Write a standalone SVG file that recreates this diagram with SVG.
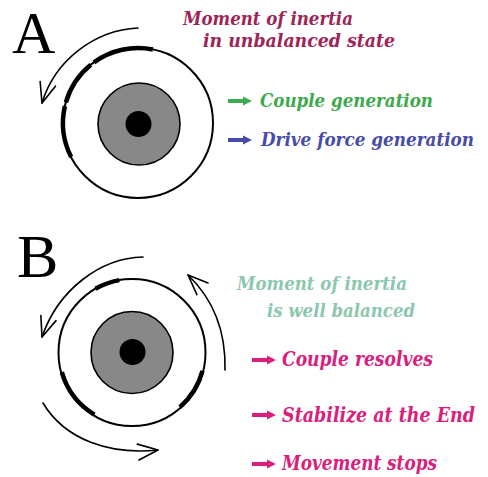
<svg xmlns="http://www.w3.org/2000/svg" width="488" height="477" viewBox="0 0 488 477">
<defs>
<style>
.bg{fill:#ffffff}
.letter{font-family:"Liberation Serif","Times New Roman",serif;fill:#000}
.lbl{font-family:"DejaVu Serif Condensed","DejaVu Serif",serif;font-weight:bold;font-style:italic;font-size:19px}
.big{font-size:20px}
.outer{fill:none;stroke:#000;stroke-width:2}
.core{fill:#888888;stroke:#000;stroke-width:1.6}
.dot{fill:#000}
.thick{fill:none;stroke:#000;stroke-width:4.5;stroke-linecap:butt}
.rot{fill:none;stroke:#000;stroke-width:1.6;stroke-linecap:round}
.crim{fill:#9e2657}
.green{fill:#3ea94e}
.blue{fill:#474ca8}
.teal{fill:#8cc7ae}
.pink{fill:#d8217c}
</style>
<marker id="vhead" markerUnits="userSpaceOnUse" markerWidth="24" markerHeight="20" refX="20" refY="8" orient="auto" overflow="visible">
<path d="M0,0 L20,8 L0,16" fill="none" stroke="#000" stroke-width="1.6" stroke-linecap="round" stroke-linejoin="round"/>
</marker>
<path id="bigArrow" d="M0,-2 L15,-2 L15,-4.5 L24,0 L15,4.5 L15,2 L0,2 Z"/>
</defs>
<rect class="bg" x="0" y="0" width="488" height="477"/>

<g id="panelA">
<text class="letter" x="12" y="53" font-size="60">A</text>
<g id="wheelA">
<circle class="outer" cx="138" cy="123" r="75"/>
<circle class="core" cx="139" cy="124" r="41"/>
<circle class="dot" cx="138.5" cy="124" r="13"/>
<path class="thick" d="M152.96,49.51 A75,75 0 0 0 93.92,62.32"/>
<path class="thick" d="M90.80,64.72 A75,75 0 0 0 65.90,102.33"/>
<path class="thick" d="M64.92,106.13 A75,75 0 0 0 71.17,157.05"/>
</g>
<g id="textA">
<text class="lbl crim" x="183" y="25" textLength="170" lengthAdjust="spacingAndGlyphs">Moment of inertia</text>
<text class="lbl crim" x="203" y="47" textLength="192" lengthAdjust="spacingAndGlyphs">in unbalanced state</text>
</g>
<g id="itemA1">
<use href="#bigArrow" x="228" y="101" class="green"/>
<text class="lbl green" x="260" y="107" textLength="173" lengthAdjust="spacingAndGlyphs">Couple generation</text>
</g>
<g id="itemA2">
<use href="#bigArrow" x="228" y="140" class="blue"/>
<text class="lbl blue" x="261" y="146" textLength="213" lengthAdjust="spacingAndGlyphs">Drive force generation</text>
</g>
</g>

<g id="panelB">
<text class="letter" x="17" y="277" font-size="62">B</text>
<g id="wheelB">
<circle class="outer" cx="132" cy="352.5" r="73.5"/>
<circle class="core" cx="132" cy="352.5" r="41"/>
<circle class="dot" cx="132.5" cy="352" r="13"/>
<path class="thick" d="M95.5,288.8 A73,73 0 0 1 119.33,280.11"/>
<path class="thick" d="M94.4,414.58 A73,73 0 0 1 61.83,372.12"/>
<path class="thick" d="M202.51,370.89 A73,73 0 0 1 179.9,407.09"/>
</g>
<g id="textB">
<text class="lbl teal" x="237" y="290" textLength="170" lengthAdjust="spacingAndGlyphs">Moment of inertia</text>
<text class="lbl teal" x="267" y="317" textLength="148" lengthAdjust="spacingAndGlyphs">is well balanced</text>
</g>
<g id="itemB1">
<use href="#bigArrow" x="252" y="360" class="pink"/>
<text class="lbl big pink" x="282" y="366" textLength="151" lengthAdjust="spacingAndGlyphs">Couple resolves</text>
</g>
<g id="itemB2">
<use href="#bigArrow" x="252" y="415" class="pink"/>
<text class="lbl big pink" x="282" y="422" textLength="193" lengthAdjust="spacingAndGlyphs">Stabilize at the End</text>
</g>
<g id="itemB3">
<use href="#bigArrow" x="252" y="464" class="pink"/>
<text class="lbl big pink" x="282" y="470" textLength="155" lengthAdjust="spacingAndGlyphs">Movement stops</text>
</g>
</g>

<g id="connectors">
<path class="rot" marker-end="url(#vhead)" d="M138,28 C95,30 55,60 42,103"/>
<path class="rot" marker-end="url(#vhead)" d="M143,257 C100,258 58,290 42,337"/>
<path class="rot" marker-end="url(#vhead)" d="M225,370 C226,330 212,298 188,275"/>
<path class="rot" marker-end="url(#vhead)" d="M43,403 C65,440 110,455 158,450"/>
</g>
</svg>
